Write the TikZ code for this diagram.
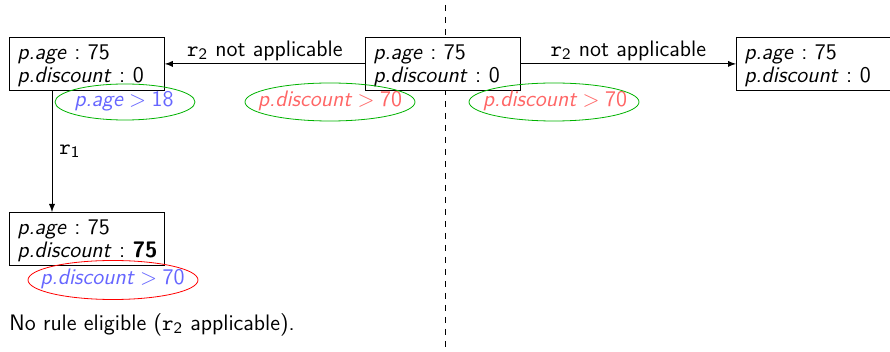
\documentclass[tikz,border=0pt]{standalone}
\usepackage{xcolor}
\newcommand{\mainsize}{\fontsize{11.2}{11.5}\selectfont\sffamily\frenchspacing}
% two-line state with fixed top and bottom struts
\newcommand{\st}[2]{\rule{0pt}{11pt}\mbox{\textit{p.age} : #1}\\\mbox{\textit{p.discount} : #2}\rule[-4pt]{0pt}{4pt}}
\newcommand{\gt}[2]{\textit{#1}\hspace{2.7pt}$>$\hspace{2.7pt}#2}
\tikzset{
  statebox/.style={draw, thin, align=left, anchor=north west, inner xsep=4pt, inner ysep=0pt,
    text width=69.5pt, minimum height=26.5pt, font=\mainsize},
  condtext/.style={inner sep=0pt, anchor=base, font=\mainsize},
  ring/.style={thin, x radius=#1, y radius=9.5pt},
  edge/.style={-latex, thin},
  elab/.style={font=\mainsize, inner sep=1.5pt},
}
\newcommand{\rr}[1]{$\mathtt{r}_{\mathsf{#1}}$}
\begin{document}
\begin{tikzpicture}[x=0.5pt, y=-0.5pt]
  \useasboundingbox (0,0) rectangle (890,352);
  % separator between the two scenarios
  \draw[dashed] (445,5) -- (445,352);

  % states
  \node[statebox] (s1) at (9,37) {\st{75}{0}};
  \node[statebox, fill=white] (s2) at (365,37) {\st{75}{0}};
  \node[statebox] (s3) at (736,37) {\st{75}{0}};
  \node[statebox] (s4) at (9,212) {\st{75}{\textbf{75}}};

  % transitions
  \draw[edge] (s2.west) -- node[elab, above] {\rr{2} not applicable} (s1.east);
  \draw[edge] (s2.east) -- node[elab, above] {\rr{2} not applicable} (s3.west);
  \draw[edge] ([xshift=21.5pt]s1.south west) -- node[elab, right, xshift=2pt] {\rr{1}} ([xshift=21.5pt]s4.north west);

  % conditions, each circled by an ellipse
  \node[condtext, text=blue!60] (c1) at (124,106.5) {\gt{p.age}{18}};
  \draw[green!70!black] (125,102) ellipse [ring=35pt, y radius=9pt];
  \node[condtext, text=red!60] (c2) at (330,106.5) {\gt{p.discount}{70}};
  \draw[green!70!black] (330,102) ellipse [ring=42.5pt];
  \node[condtext, text=red!60] (c3) at (555,106.5) {\gt{p.discount}{70}};
  \draw[green!70!black] (554,102) ellipse [ring=42.5pt];
  \node[condtext, text=blue!60] (c4) at (112.5,285) {\gt{p.discount}{70}};
  \draw[red] (113,280) ellipse [ring=42.5pt, y radius=9.75pt];

  \node[font=\mainsize, anchor=west, inner sep=0pt] (msg) at (9,325) {No rule eligible (\rr{2} applicable).};
\end{tikzpicture}
\end{document}
